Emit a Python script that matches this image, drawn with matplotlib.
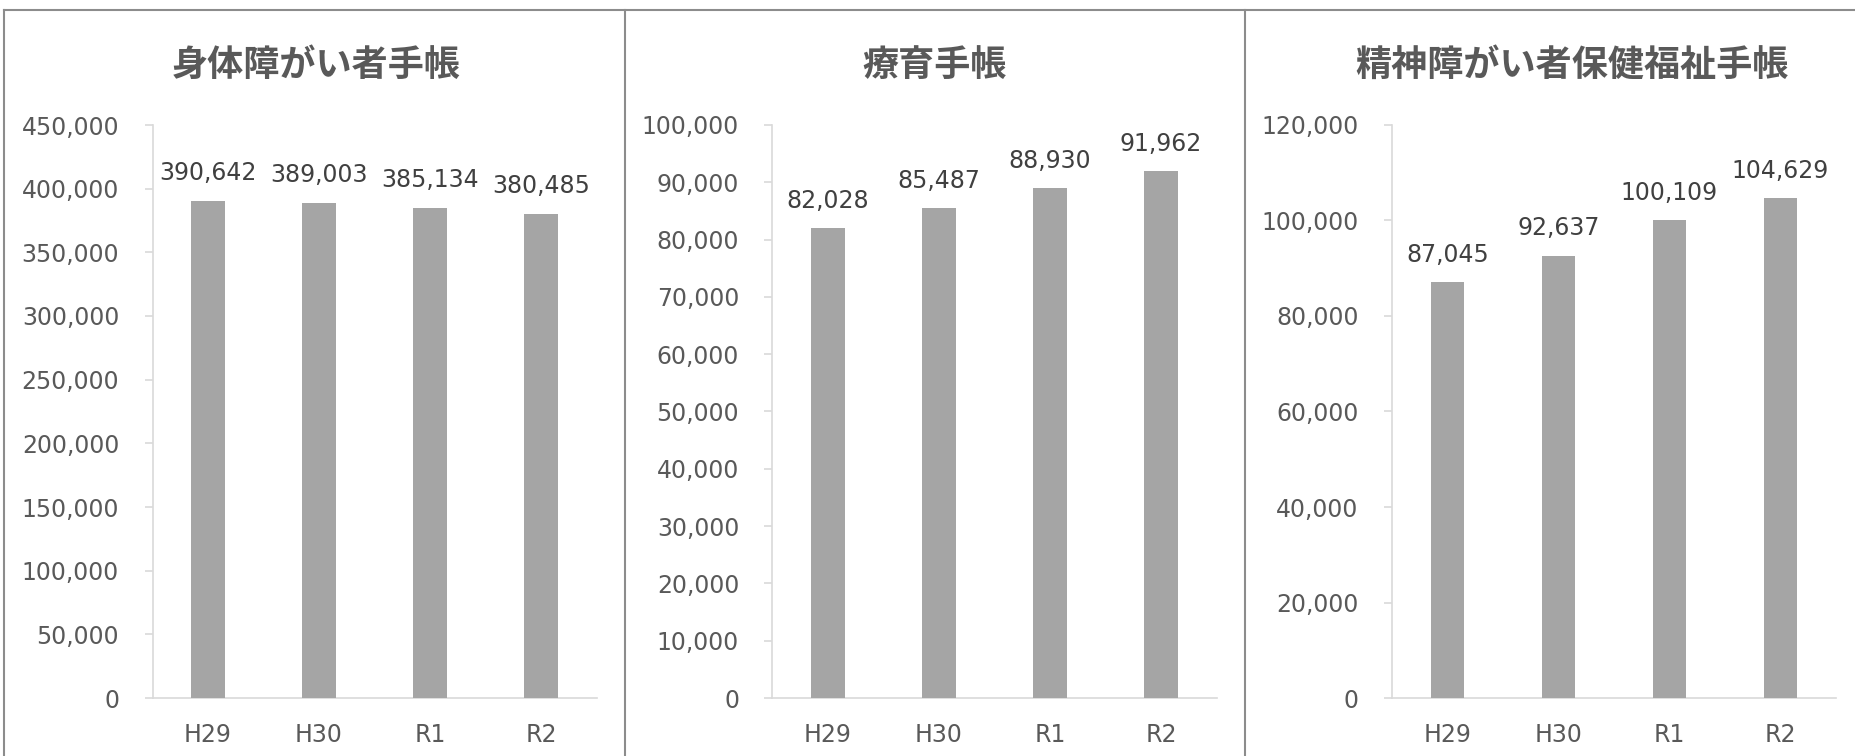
import numpy as np
import matplotlib
matplotlib.use('Agg')
import matplotlib.pyplot as plt
from matplotlib.lines import Line2D
from matplotlib.ticker import FuncFormatter

plt.rcParams['font.family'] = ['DejaVu Sans', 'Noto Sans CJK JP']

# ---- data ----
categories = ['H29', 'H30', 'R1', 'R2']
titles = ['身体障がい者手帳', '療育手帳', '精神障がい者保健福祉手帳']
physical = [390642, 389003, 385134, 380485]
intellectual = [82028, 85487, 88930, 91962]
mental = [87045, 92637, 100109, 104629]
y_max = [450000, 100000, 120000]
y_step = [50000, 10000, 20000]

series = [physical, intellectual, mental]

W, H = 1856, 756
fig = plt.figure(figsize=(W / 100, H / 100), dpi=100)
fig.patch.set_facecolor('white')

ax_left_px = [152.5, 772.5, 1392]
ax_w_px = 444
ax_bottom_px = 58
ax_h_px = 573
title_x_px = [316, 935, 1572]
title_y_px = 65

TICK_COLOR = '#595959'
LABEL_COLOR = '#404040'
AXIS_COLOR = '#D9D9D9'
BAR_COLOR = '#A5A5A5'

for i in range(3):
    ax = fig.add_axes([ax_left_px[i] / W, ax_bottom_px / H, ax_w_px / W, ax_h_px / H])
    vals = series[i]
    x = np.arange(len(categories))
    ax.bar(x, vals, width=0.306, color=BAR_COLOR, zorder=3)
    ax.set_xlim(-0.5, len(categories) - 0.5)
    ax.set_ylim(0, y_max[i])
    ax.set_yticks(np.arange(0, y_max[i] + 1, y_step[i]))
    ax.yaxis.set_major_formatter(FuncFormatter(lambda v, p: f'{int(round(v)):,}'))
    ax.set_xticks(x)
    ax.set_xticklabels(categories)
    for s in ['top', 'right']:
        ax.spines[s].set_visible(False)
    for s in ['left', 'bottom']:
        ax.spines[s].set_color(AXIS_COLOR)
        ax.spines[s].set_linewidth(1.2)
    ax.tick_params(axis='y', length=6, width=1.2, color=AXIS_COLOR, pad=18,
                   labelsize=17, labelcolor=TICK_COLOR)
    ax.tick_params(axis='x', length=0, pad=18, labelsize=17, labelcolor=TICK_COLOR)
    ax.patch.set_alpha(0)
    for xi, v in zip(x, vals):
        ax.annotate(f'{v:,}', (xi, v), xytext=(0, 11), textcoords='offset points',
                    ha='center', va='bottom', fontsize=17, color=LABEL_COLOR)
    fig.text(title_x_px[i] / W, 1 - title_y_px / H, titles[i], ha='center', va='center',
             fontsize=26, fontweight='bold', color=TICK_COLOR,
             family=['Noto Sans CJK JP', 'DejaVu Sans'])

# panel frame lines
BORDER = '#8C8C8C'
top_y = 1 - 10 / H
fig.add_artist(Line2D([4 / W, 1], [top_y, top_y], transform=fig.transFigure, color=BORDER, lw=1.5))
for xp in [4, 625, 1245]:
    fig.add_artist(Line2D([xp / W, xp / W], [0, top_y], transform=fig.transFigure, color=BORDER, lw=1.5))

fig.savefig('out.png', dpi=100)
